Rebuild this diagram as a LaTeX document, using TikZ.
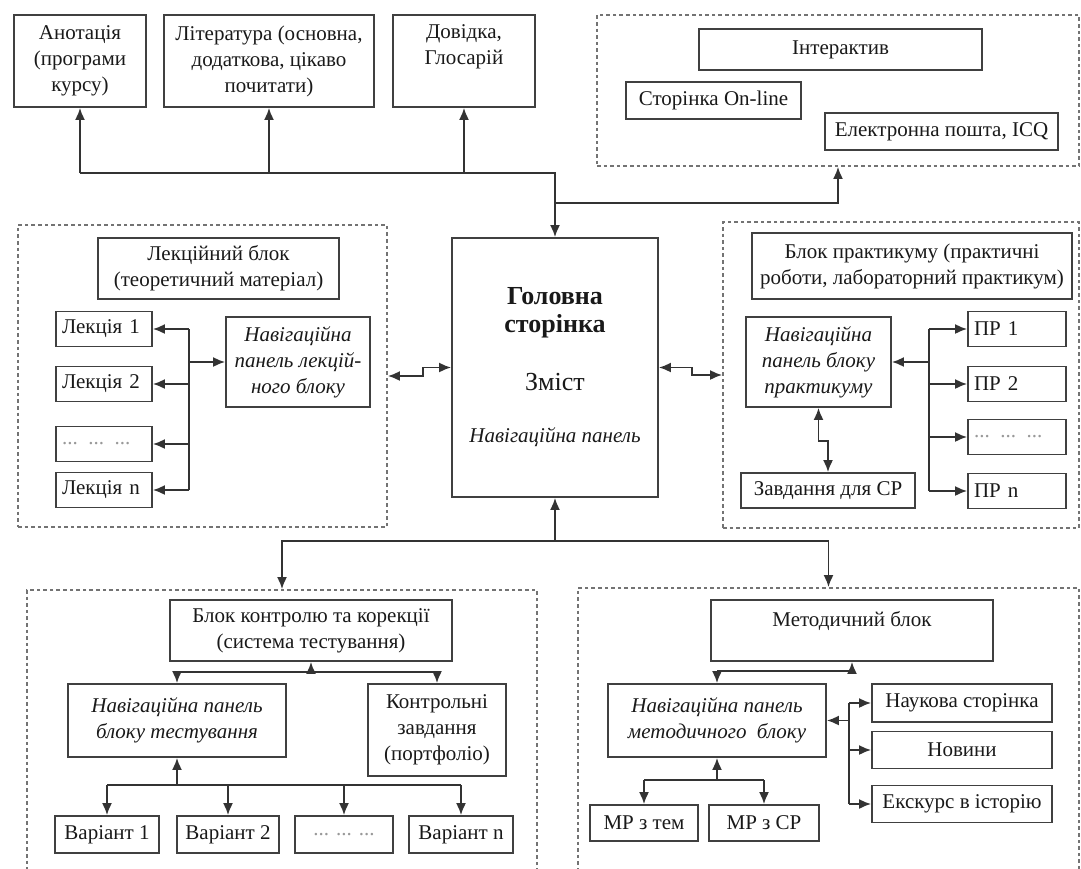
\documentclass[tikz,border=0pt]{standalone}
\usepackage{fontspec}
\setmainfont{Liberation Serif}
\usetikzlibrary{arrows.meta}

\begin{document}
\begin{tikzpicture}[x=0.5pt,y=-0.5pt,>={Latex[length=6pt,width=5pt]},
  font=\fontsize{10.5}{13}\selectfont,
  box/.style={draw=black!75,line width=0.9pt,align=center,inner sep=3pt,text=black!90},
  nav/.style={box,font=\fontsize{10.5}{13}\selectfont\itshape},
  grp/.style={draw=black!55,line width=0.9pt,dash pattern=on 1.8pt off 1.5pt},
  sz/.style 2 args={minimum width=#1*0.5pt,minimum height=#2*0.5pt},
  lft/.style={align=left,text width=#1*0.5pt-6pt},
  dots/.style={text=black!40},
  ln/.style={line width=0.9pt,black!80}]
  \useasboundingbox (0,0) rectangle (1081,868);
  \clip (0,0) rectangle (1081,868);

  \node[box,sz={132}{92}] (anot) at (80,61) {Анотація\\(програми\\курсу)};
  \node[box,sz={210}{92}] (lit) at (269,61) {Література (основна,\\додаткова, цікаво\\почитати)};
  \node[box,sz={142}{92},text depth=16pt] (dov) at (464,61) {Довідка,\\Глосарій};

  \node[grp,sz={482}{151}] (igrp) at (838,90.5) {};
  \node[box,sz={283}{41}] (inter) at (840.5,49.5) {Інтерактив};
  \node[box,sz={175}{37}] (online) at (713.5,100.5) {Сторінка On-line};
  \node[box,sz={233}{37}] (email) at (941.5,131.5) {Електронна пошта, ICQ};

  \node[box,sz={206}{259},font=\fontsize{13}{14}\selectfont] (main) at (555,367.5)
    {\textbf{Головна}\\\textbf{сторінка}\\[15pt]Зміст\\[12pt]{\fontsize{10.5}{13}\selectfont\itshape Навігаційна панель}};

  \node[grp,sz={369}{302}] (lgrp) at (202.5,376) {};
  \node[box,sz={241}{61}] (lekbl) at (218.5,268.5) {Лекційний блок\\(теоретичний матеріал)};
  \node[box,sz={96}{35},lft=96] (lek1) at (104,329) {Лекція 1};
  \node[box,sz={96}{35},lft=96] (lek2) at (104,384) {Лекція 2};
  \node[box,sz={96}{35},lft=96,dots] (lek3) at (104,444) {... ... ...};
  \node[box,sz={96}{35},lft=96] (lekn) at (104,490) {Лекція n};
  \node[nav,sz={144}{90}] (navlek) at (298,362) {Навігаційна\\панель лекцій-\\ного блоку};

  \node[grp,sz={356}{306}] (rgrp) at (901,375) {};
  \node[box,sz={320}{66}] (prbl) at (912,266) {Блок практикуму (практичні\\роботи, лабораторний практикум)};
  \node[nav,sz={145}{90}] (navpr) at (818.5,362) {Навігаційна\\панель блоку\\практикуму};
  \node[box,sz={98}{35},lft=98] (pr1) at (1017,329) {ПР 1};
  \node[box,sz={98}{35},lft=98] (pr2) at (1017,384) {ПР 2};
  \node[box,sz={98}{35},lft=98,dots] (pr3) at (1017,437) {... ... ...};
  \node[box,sz={98}{35},lft=98] (prn) at (1017,491) {ПР n};
  \node[box,sz={174}{35}] (zavd) at (828,490.5) {Завдання для СР};

  \node[grp,sz={510}{300}] (blgrp) at (282,740) {};
  \node[box,sz={282}{61}] (kontbl) at (311,630.5) {Блок контролю та корекції\\(система тестування)};
  \node[nav,sz={218}{73}] (navtest) at (177,720.5) {Навігаційна панель\\блоку тестування};
  \node[box,sz={138}{92}] (kontz) at (437,730) {Контрольні\\завдання\\(портфоліо)};
  \node[box,sz={104}{37}] (var1) at (107,834.5) {Варіант 1};
  \node[box,sz={102}{37}] (var2) at (228,834.5) {Варіант 2};
  \node[box,sz={98}{37},dots] (var3) at (344,834.5) {... ... ...};
  \node[box,sz={104}{37}] (varn) at (461,834.5) {Варіант n};

  \node[grp,sz={501}{302}] (brgrp) at (828.5,739) {};
  \node[box,sz={282}{61},text depth=12pt] (metod) at (852,630.5) {Методичний блок};
  \node[nav,sz={218}{73}] (navmet) at (717,720.5) {Навігаційна панель\\методичного\ \ блоку};
  \node[box,sz={180}{38}] (nauk) at (962,703) {Наукова сторінка};
  \node[box,sz={180}{37}] (novyny) at (962,750) {Новини};
  \node[box,sz={180}{37}] (eksk) at (962,804) {Екскурс в історію};
  \node[box,sz={108}{36}] (mp1) at (644,823) {МР з тем};
  \node[box,sz={110}{36}] (mp2) at (764,823) {МР з СР};

  \coordinate (tj) at (555,173);
  \coordinate (ij) at (555,203);
  \coordinate (bj) at (555,541);
  \coordinate (lb) at (189,0);
  \coordinate (rb) at (929,0);
  \coordinate (kj) at (0,672);
  \coordinate (vb) at (0,785);
  \coordinate (mj) at (0,671);
  \coordinate (mb) at (849,0);
  \coordinate (mpb) at (0,780);

  \draw[ln,->] (anot.south |- tj) -- (tj) -- (main.north);
  \path[ln,->]
    (anot.south |- tj) edge (anot.south)
    (lit.south |- tj) edge (lit.south)
    (dov.south |- tj) edge (dov.south);
  \draw[ln,->] (ij) -| (igrp.south);
  \draw[ln,<->] (lgrp.east) -- ++(35,0) |- (main.west);
  \draw[ln,<->] (main.east) -- ++(33,0) |- (rgrp.west);
  \draw[ln,->] (bj) -- (main.south);
  \draw[ln,->] (bj) -| (blgrp.north);
  \draw[ln,->] (bj) -| (brgrp.north);

  \draw[ln] (lek1.east -| lb) -- (lekn.east -| lb);
  \path[ln,->]
    (lek1.east -| lb) edge (lek1.east)
    (lek2.east -| lb) edge (lek2.east)
    (lek3.east -| lb) edge (lek3.east)
    (lekn.east -| lb) edge (lekn.east)
    (navlek.west -| lb) edge (navlek.west);

  \draw[ln] (pr1.west -| rb) -- (prn.west -| rb);
  \path[ln,->]
    (pr1.west -| rb) edge (pr1.west)
    (pr2.west -| rb) edge (pr2.west)
    (pr3.west -| rb) edge (pr3.west)
    (prn.west -| rb) edge (prn.west)
    (navpr.east -| rb) edge (navpr.east);
  \draw[ln,<->] (navpr.south) -- ++(0,33) -| (zavd.north);

  \draw[ln] (navtest.north |- kj) -- (kontz.north |- kj);
  \path[ln,->]
    (kontbl.south |- kj) edge (kontbl.south)
    (navtest.north |- kj) edge (navtest.north)
    (kontz.north |- kj) edge (kontz.north);
  \draw[ln] (var1.north |- vb) -- (varn.north |- vb);
  \path[ln,->]
    (navtest.south |- vb) edge (navtest.south)
    (var1.north |- vb) edge (var1.north)
    (var2.north |- vb) edge (var2.north)
    (var3.north |- vb) edge (var3.north)
    (varn.north |- vb) edge (varn.north);

  \draw[ln] (navmet.north |- mj) -- (metod.south |- mj);
  \path[ln,->]
    (metod.south |- mj) edge (metod.south)
    (navmet.north |- mj) edge (navmet.north);
  \draw[ln] (nauk.west -| mb) -- (eksk.west -| mb);
  \path[ln,->]
    (nauk.west -| mb) edge (nauk.west)
    (novyny.west -| mb) edge (novyny.west)
    (eksk.west -| mb) edge (eksk.west)
    (navmet.east -| mb) edge (navmet.east);
  \draw[ln] (mp1.north |- mpb) -- (mp2.north |- mpb);
  \path[ln,->]
    (navmet.south |- mpb) edge (navmet.south)
    (mp1.north |- mpb) edge (mp1.north)
    (mp2.north |- mpb) edge (mp2.north);
\end{tikzpicture}
\end{document}
